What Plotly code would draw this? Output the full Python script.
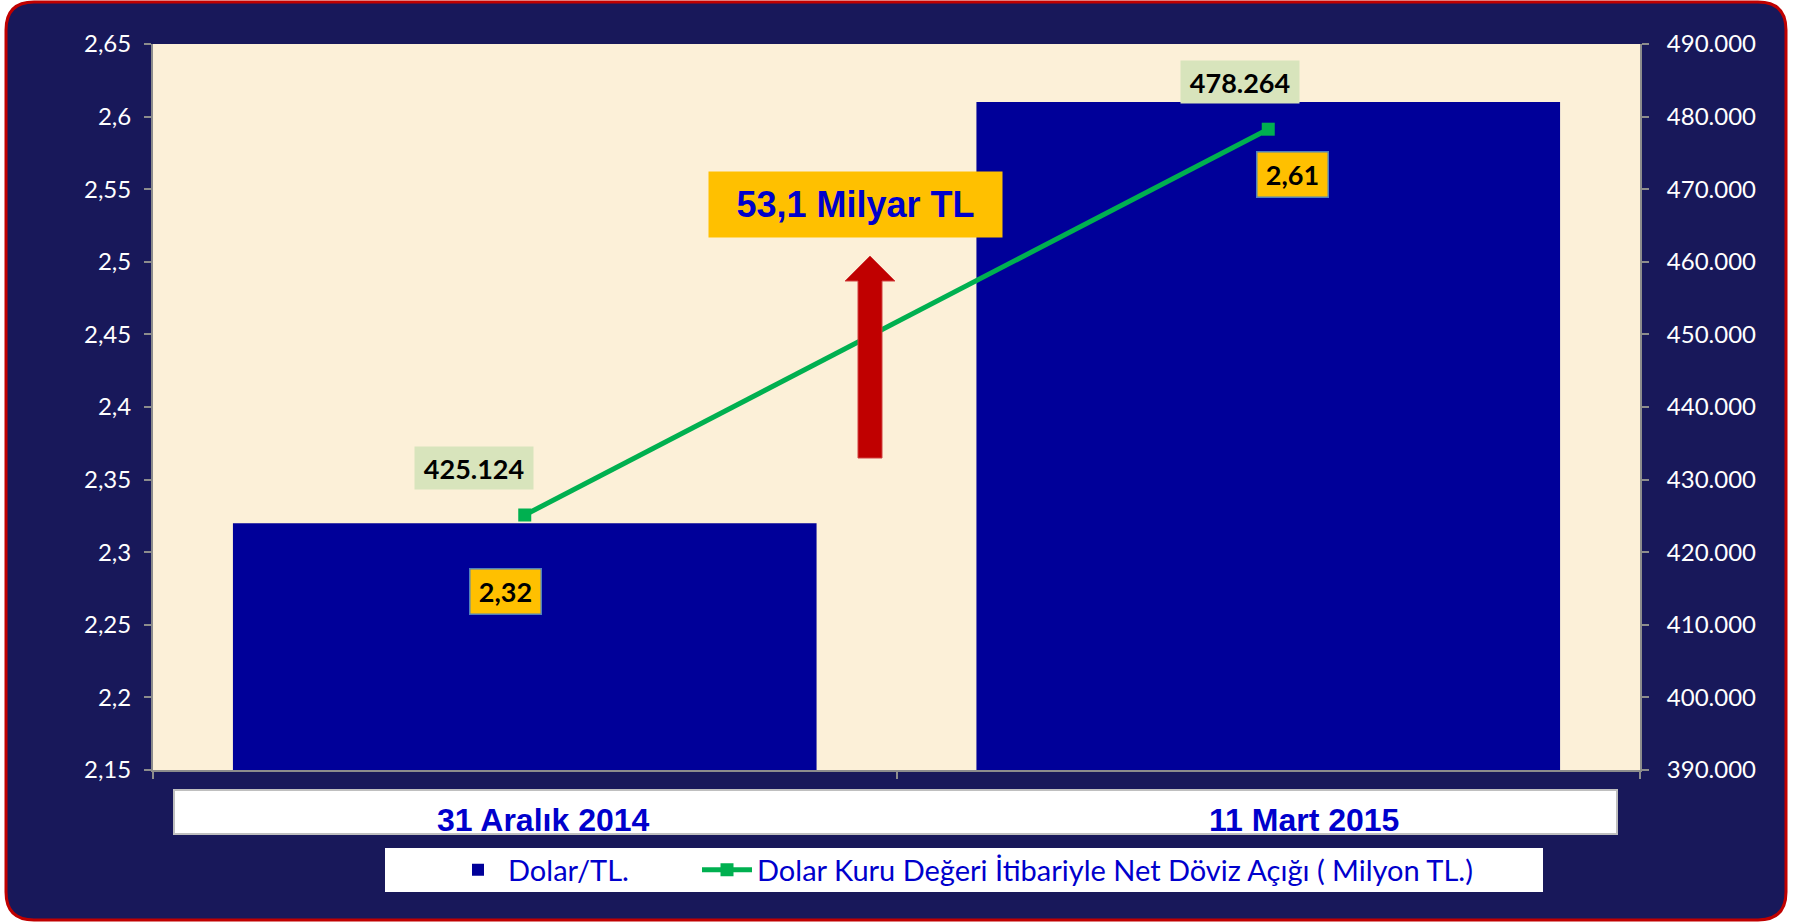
import plotly.graph_objects as go

categories = ["31 Aralık 2014", "11 Mart 2015"]
dolar_tl = [2.32, 2.61]
net_doviz_acigi = [425124, 478264]
left_ticks = [2.15, 2.2, 2.25, 2.3, 2.35, 2.4, 2.45, 2.5, 2.55, 2.6, 2.65]
right_ticks = [390000, 400000, 410000, 420000, 430000, 440000, 450000, 460000, 470000, 480000, 490000]
change_text = "53,1 Milyar TL"
bar_name = "Dolar/TL."
line_name = "Dolar Kuru Değeri İtibariyle Net Döviz Açığı ( Milyon TL.)"

W, H = 1797, 922
L, R, T, B = 153, 1640, 44, 770
PW, PH = R - L, B - T


def X(px):
    return (px - L) / PW


def Y(py):
    return (B - py) / PH


def tr_num(v, dec=0):
    s = f"{v:,.{dec}f}"
    return s.replace(",", "X").replace(".", ",").replace("X", ".")


NAVY = "#18185A"
BAR = "#000099"
GREEN = "#00B050"
TEXTBLUE = "#0000CC"

fig = go.Figure()
fig.add_trace(go.Bar(x=categories, y=dolar_tl, name=bar_name, marker=dict(color=BAR, line=dict(width=0)),
                     yaxis="y", legend="legend"))
fig.add_trace(go.Scatter(x=categories, y=net_doviz_acigi, name=line_name, yaxis="y2", mode="lines+markers",
                         line=dict(color=GREEN, width=5),
                         marker=dict(symbol="square", size=13, color=GREEN), legend="legend2"))

shapes = []
# outer rounded frame
x0, y0, x1, y1, r = 6, 2, 1786, 920, 28
path = (f"M {X(x0 + r)},{Y(y0)} L {X(x1 - r)},{Y(y0)} Q {X(x1)},{Y(y0)} {X(x1)},{Y(y0 + r)} "
        f"L {X(x1)},{Y(y1 - r)} Q {X(x1)},{Y(y1)} {X(x1 - r)},{Y(y1)} "
        f"L {X(x0 + r)},{Y(y1)} Q {X(x0)},{Y(y1)} {X(x0)},{Y(y1 - r)} "
        f"L {X(x0)},{Y(y0 + r)} Q {X(x0)},{Y(y0)} {X(x0 + r)},{Y(y0)} Z")
shapes.append(dict(type="path", xref="paper", yref="paper", path=path, fillcolor=NAVY,
                   line=dict(color="#C00000", width=3), layer="below"))
# plot background
shapes.append(dict(type="rect", xref="paper", yref="paper", x0=0, x1=1, y0=0, y1=1,
                   fillcolor="#FCF0D8", line=dict(width=0), layer="below"))
# category label box
shapes.append(dict(type="rect", xref="paper", yref="paper", x0=X(174), x1=X(1617), y0=Y(834), y1=Y(790),
                   fillcolor="white", line=dict(color="#BFBFBF", width=2), layer="below"))
# legend box
shapes.append(dict(type="rect", xref="paper", yref="paper", x0=X(385), x1=X(1543), y0=Y(892), y1=Y(848),
                   fillcolor="white", line=dict(width=0), layer="below"))
# red arrow
arrow = [(858, 458), (858, 281), (845, 281), (870, 256), (895, 281), (882, 281), (882, 458)]
apath = "M " + " L ".join(f"{X(a)},{Y(b)}" for a, b in arrow) + " Z"
shapes.append(dict(type="path", xref="paper", yref="paper", path=apath, fillcolor="#C00000",
                   line=dict(color="#D04040", width=1), layer="above"))

annotations = []
# category labels
for cat, xs in zip(categories, [19, 36]):
    annotations.append(dict(x=cat, xref="x", y=Y(820), yref="paper", text=f"<b>{cat}</b>", showarrow=False,
                            xshift=xs, xanchor="center", yanchor="middle",
                            font=dict(family="Liberation Sans Narrow, Arial Narrow, Liberation Sans",
                                      size=32, color=TEXTBLUE)))
# line value labels
for cat, v, xs in zip(categories, net_doviz_acigi, [-51, -28]):
    annotations.append(dict(x=cat, y=v, xref="x", yref="y2", text=f"<b>{tr_num(v)}</b>", showarrow=False,
                            xshift=xs, yshift=47, xanchor="center", yanchor="middle",
                            bgcolor="#D8E4BC", width=110, height=34, borderpad=4,
                            font=dict(family="Lato", size=27, color="black")))
# bar value labels
for cat, v, xs, ys in zip(categories, dolar_tl, [-19, 24], [-68, -72]):
    annotations.append(dict(x=cat, y=v, xref="x", yref="y", text=f"<b>{tr_num(v, 2)}</b>", showarrow=False,
                            xshift=xs, yshift=ys, xanchor="center", yanchor="middle",
                            bgcolor="#FFC000", bordercolor="#4F81BD", borderwidth=1.5,
                            width=64, height=38, borderpad=3,
                            font=dict(family="Lato", size=27, color="black")))
# change callout
annotations.append(dict(x=X(855), y=Y(205), xref="paper", yref="paper", text=f"<b>{change_text}</b>",
                        showarrow=False, xanchor="center", yanchor="middle",
                        bgcolor="#FFC000", width=281, height=53, borderpad=6,
                        font=dict(family="Liberation Sans, Arial", size=36, color=TEXTBLUE)))

axis_common = dict(showgrid=False, zeroline=False, showline=True, linecolor="#8C8C8C", linewidth=2,
                   ticks="outside", ticklen=7, tickcolor="#8C8C8C", tickwidth=2,
                   tickfont=dict(family="Lato", size=24, color="white"))

legend_common = dict(orientation="h", xanchor="left", yanchor="middle", bgcolor="rgba(0,0,0,0)",
                     font=dict(family="Lato", size=29, color=TEXTBLUE), itemwidth=50)

fig.update_layout(
    width=W, height=H,
    margin=dict(l=L, r=W - R, t=T, b=H - B, pad=0),
    paper_bgcolor="white", plot_bgcolor="rgba(0,0,0,0)",
    separators=",.",
    bargap=0.215,
    shapes=shapes, annotations=annotations,
    xaxis=dict(showgrid=False, zeroline=False, showline=True, linecolor="#8C8C8C", linewidth=2,
               ticks="outside", ticklen=7, tickcolor="#8C8C8C", tickwidth=2, tickson="boundaries",
               showticklabels=False),
    yaxis=dict(range=[2.15, 2.65], tickvals=left_ticks, tickformat=".2~f", ticklabelstandoff=8,
               **axis_common),
    yaxis2=dict(range=[390000, 490000], tickvals=right_ticks, tickformat=",d", overlaying="y", side="right",
                ticklabelstandoff=13, **axis_common),
    showlegend=True,
    legend=dict(x=X(448), y=Y(870), **legend_common),
    legend2=dict(x=X(697), y=Y(870), **legend_common),
)

fig.write_html("out.html", config={"displayModeBar": False},
               post_script="document.body.style.margin='0';document.body.style.overflow='hidden';")
